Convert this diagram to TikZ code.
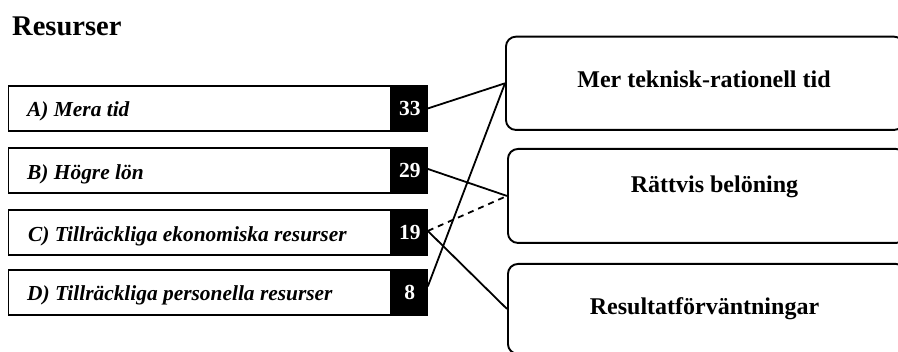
\documentclass[tikz,border=0pt]{standalone}
\usepackage{fontspec}
\setmainfont{Liberation Serif}
\usetikzlibrary{calc}
\begin{document}
\begin{tikzpicture}[x=1pt,y=1pt,
  lbox/.style={draw, line width=1.9pt, fill=white, minimum width=382.5pt, minimum height=45pt, inner sep=0pt, anchor=north west},
  numbox/.style={draw, line width=1.9pt, fill=black, text=white, minimum width=34pt, minimum height=45pt, inner sep=0pt, anchor=west, font=\fontsize{21.5}{24}\selectfont\bfseries},
  ltext/.style={anchor=base west, inner sep=0pt, font=\fontsize{21.4}{24}\selectfont\bfseries\itshape},
  rbox/.style={draw, line width=1.9pt, rounded corners=10pt, minimum width=398pt, inner sep=0pt, anchor=north west},
  rtext/.style={anchor=base, inner sep=0pt, font=\fontsize{24}{27}\selectfont\bfseries},
  conn/.style={line width=1.8pt},
  dconn/.style={line width=1.8pt, dash pattern=on 6pt off 5pt}]
\useasboundingbox (0,0) rectangle (898,-352);
\clip (0,0) rectangle (898,-352);
\fill[white] (0,0) rectangle (898,-352);

% title
\node[anchor=base west, inner sep=0pt, font=\fontsize{28.5}{31}\selectfont\bfseries] (title) at (12,-35.7) {Resurser};

% left boxes
\node[lbox] (A) at (7.5,-85) {};
\node[lbox] (B) at (7.5,-147.5) {};
\node[lbox] (C) at (7.5,-209.5) {};
\node[lbox] (D) at (7.5,-269) {};
\node[numbox] (nA) at (A.east) {33};
\node[numbox] (nB) at (B.east) {29};
\node[numbox] (nC) at (C.east) {19};
\node[numbox] (nD) at (D.east) {8};
\node[ltext] (tA) at ($(A.west)+(19.5,-8.4)$) {A) Mera tid};
\node[ltext] (tB) at ($(B.west)+(19.5,-8.4)$) {B) Högre lön};
\node[ltext] (tC) at ($(C.west)+(20.5,-8.4)$) {C) Tillräckliga ekonomiska resurser};
\node[ltext] (tD) at ($(D.west)+(19.5,-8.4)$) {D) Tillräckliga personella resurser};

% right boxes
\node[rbox, minimum height=93.3pt] (R1) at (505,-35.7) {};
\node[rbox, minimum height=94pt] (R2) at (507,-148) {};
\node[rbox, minimum height=90pt] (R3) at (507,-263) {};
\node[rtext] (t1) at (704,-88) {Mer teknisk-rationell tid};
\node[rtext] (t2) at (714.5,-193) {Rättvis belöning};
\node[rtext] (t3) at (704.5,-315) {Resultatförväntningar};

% connectors
\draw[conn] (nA.east) -- (R1.west);
\draw[conn] ([yshift=2pt]nB.east) -- (R2.west);
\draw[dconn] ([yshift=2pt]nC.east) -- (R2.west);
\draw[conn] ([yshift=2pt]nC.east) -- (R3.west);
\draw[conn] ([yshift=6pt]nD.east) -- (R1.west);
\end{tikzpicture}
\end{document}
